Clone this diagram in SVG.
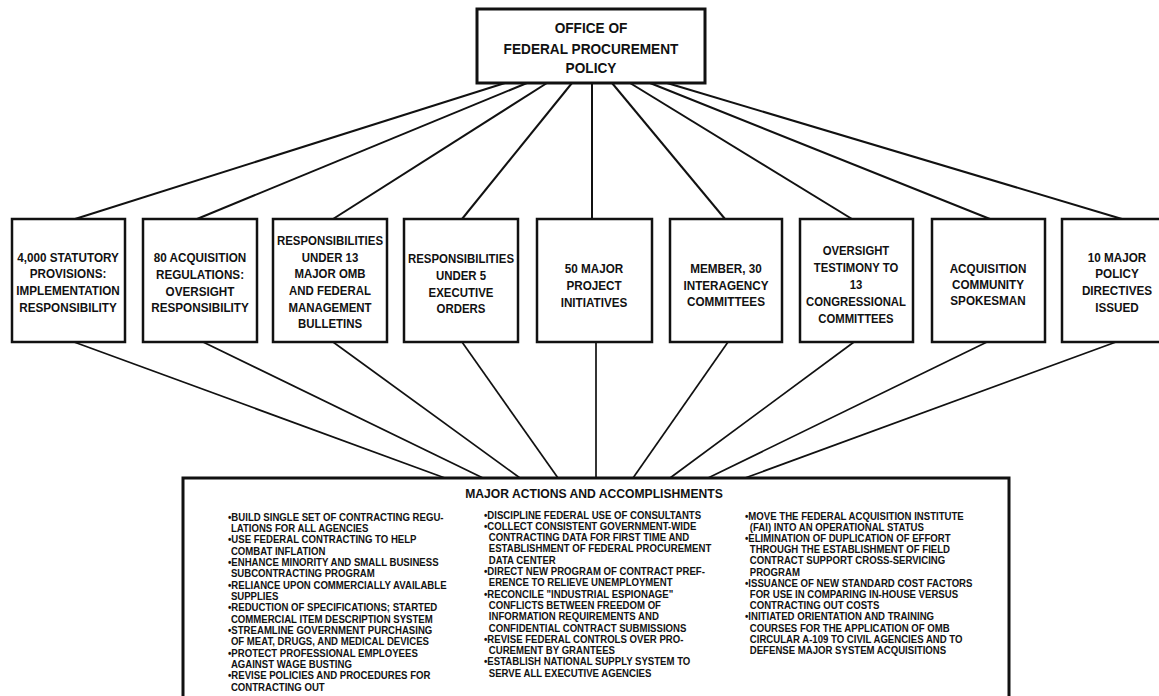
<svg xmlns="http://www.w3.org/2000/svg" width="1159" height="696" viewBox="0 0 1159 696">
<style>
.box{fill:#fff;stroke:#111;stroke-width:2.5}
.t{font-family:"Liberation Sans",Arial,sans-serif;font-weight:bold;fill:#111}
.hd{font-size:15px;text-anchor:middle}
.bx{font-size:13px;text-anchor:middle}
.ti{font-size:13.5px;text-anchor:middle}
.bd{font-size:10px}
.ln{stroke:#111;stroke-width:2;fill:none}
.lb{stroke:#111;stroke-width:1.7;fill:none}
</style>
<rect width="1159" height="696" fill="#fff"/>
<g id="connectors">
<line class="ln" x1="505" y1="83" x2="75" y2="219"/>
<line class="ln" x1="527" y1="83" x2="197" y2="219"/>
<line class="ln" x1="547" y1="83" x2="333" y2="219"/>
<line class="ln" x1="572" y1="83" x2="462" y2="219"/>
<line class="ln" x1="592" y1="83" x2="592" y2="219"/>
<line class="ln" x1="612" y1="83" x2="725" y2="219"/>
<line class="ln" x1="630" y1="83" x2="852" y2="219"/>
<line class="ln" x1="650" y1="83" x2="990" y2="219"/>
<line class="ln" x1="667" y1="83" x2="1122" y2="219"/>
<line class="lb" x1="74" y1="342" x2="445" y2="478"/>
<line class="lb" x1="203" y1="342" x2="483" y2="478"/>
<line class="lb" x1="333" y1="342" x2="520" y2="478"/>
<line class="lb" x1="462" y1="342" x2="558" y2="478"/>
<line class="lb" x1="596" y1="342" x2="596" y2="478"/>
<line class="lb" x1="728" y1="342" x2="633" y2="478"/>
<line class="lb" x1="854" y1="342" x2="670" y2="478"/>
<line class="lb" x1="987" y1="342" x2="708" y2="478"/>
<line class="lb" x1="1116" y1="342" x2="745" y2="478"/>
</g>
<g id="ofpp">
<rect class="box" x="477" y="9" width="228" height="74" style="stroke-width:3"/>
<text class="t hd" transform="translate(591,0) scale(0.91,1)"><tspan x="0" y="33">OFFICE OF</tspan><tspan x="0" y="54">FEDERAL PROCUREMENT</tspan><tspan x="0" y="73">POLICY</tspan></text>
</g>
<g id="box1">
<rect class="box" x="12" y="219" width="113" height="123"/>
<text class="t bx" transform="translate(68,0) scale(0.9,1)"><tspan x="0" y="262">4,000 STATUTORY</tspan><tspan x="0" y="278">PROVISIONS:</tspan><tspan x="0" y="295">IMPLEMENTATION</tspan><tspan x="0" y="312">RESPONSIBILITY</tspan></text>
</g>
<g id="box2">
<rect class="box" x="143" y="219" width="114" height="123"/>
<text class="t bx" transform="translate(200,0) scale(0.9,1)"><tspan x="0" y="262">80 ACQUISITION</tspan><tspan x="0" y="279">REGULATIONS:</tspan><tspan x="0" y="296">OVERSIGHT</tspan><tspan x="0" y="312">RESPONSIBILITY</tspan></text>
</g>
<g id="box3">
<rect class="box" x="273" y="219" width="114" height="123"/>
<text class="t bx" transform="translate(330,0) scale(0.88,1)"><tspan x="0" y="245">RESPONSIBILITIES</tspan><tspan x="0" y="262">UNDER 13</tspan><tspan x="0" y="278">MAJOR OMB</tspan><tspan x="0" y="295">AND FEDERAL</tspan><tspan x="0" y="312">MANAGEMENT</tspan><tspan x="0" y="328">BULLETINS</tspan></text>
</g>
<g id="box4">
<rect class="box" x="404" y="219" width="114" height="123"/>
<text class="t bx" transform="translate(461,0) scale(0.88,1)"><tspan x="0" y="263">RESPONSIBILITIES</tspan><tspan x="0" y="280">UNDER 5</tspan><tspan x="0" y="297">EXECUTIVE</tspan><tspan x="0" y="313">ORDERS</tspan></text>
</g>
<g id="box5">
<rect class="box" x="537" y="219" width="115" height="123"/>
<text class="t bx" transform="translate(594,0) scale(0.9,1)"><tspan x="0" y="273">50 MAJOR</tspan><tspan x="0" y="290">PROJECT</tspan><tspan x="0" y="307">INITIATIVES</tspan></text>
</g>
<g id="box6">
<rect class="box" x="670" y="219" width="112" height="123"/>
<text class="t bx" transform="translate(726,0) scale(0.9,1)"><tspan x="0" y="273">MEMBER, 30</tspan><tspan x="0" y="290">INTERAGENCY</tspan><tspan x="0" y="306">COMMITTEES</tspan></text>
</g>
<g id="box7">
<rect class="box" x="800" y="219" width="113" height="123"/>
<text class="t bx" transform="translate(856,0) scale(0.87,1)"><tspan x="0" y="255">OVERSIGHT</tspan><tspan x="0" y="272">TESTIMONY TO</tspan><tspan x="0" y="289">13</tspan><tspan x="0" y="306">CONGRESSIONAL</tspan><tspan x="0" y="323">COMMITTEES</tspan></text>
</g>
<g id="box8">
<rect class="box" x="932" y="219" width="113" height="123"/>
<text class="t bx" transform="translate(988,0) scale(0.9,1)"><tspan x="0" y="273">ACQUISITION</tspan><tspan x="0" y="289">COMMUNITY</tspan><tspan x="0" y="305">SPOKESMAN</tspan></text>
</g>
<g id="box9">
<rect class="box" x="1062" y="219" width="114" height="123"/>
<text class="t bx" transform="translate(1117,0) scale(0.9,1)"><tspan x="0" y="262">10 MAJOR</tspan><tspan x="0" y="278">POLICY</tspan><tspan x="0" y="295">DIRECTIVES</tspan><tspan x="0" y="312">ISSUED</tspan></text>
</g>
<g id="actions">
<rect class="box" x="183" y="478" width="826" height="230" style="stroke-width:3"/>
<text class="t ti" transform="translate(594,0) scale(0.9,1)" x="0" y="498">MAJOR ACTIONS AND ACCOMPLISHMENTS</text>
<text class="t bd" transform="translate(228,0) scale(0.96,1)">
<tspan x="0" y="520.6">•BUILD SINGLE SET OF CONTRACTING REGU-</tspan>
<tspan x="3" y="531.9">LATIONS FOR ALL AGENCIES</tspan>
<tspan x="0" y="543.3">•USE FEDERAL CONTRACTING TO HELP</tspan>
<tspan x="3" y="554.6">COMBAT INFLATION</tspan>
<tspan x="0" y="565.9">•ENHANCE MINORITY AND SMALL BUSINESS</tspan>
<tspan x="3" y="577.3">SUBCONTRACTING PROGRAM</tspan>
<tspan x="0" y="588.6">•RELIANCE UPON COMMERCIALLY AVAILABLE</tspan>
<tspan x="3" y="599.9">SUPPLIES</tspan>
<tspan x="0" y="611.2">•REDUCTION OF SPECIFICATIONS; STARTED</tspan>
<tspan x="3" y="622.6">COMMERCIAL ITEM DESCRIPTION SYSTEM</tspan>
<tspan x="0" y="633.9">•STREAMLINE GOVERNMENT PURCHASING</tspan>
<tspan x="3" y="645.2">OF MEAT, DRUGS, AND MEDICAL DEVICES</tspan>
<tspan x="0" y="656.6">•PROTECT PROFESSIONAL EMPLOYEES</tspan>
<tspan x="3" y="667.9">AGAINST WAGE BUSTING</tspan>
<tspan x="0" y="679.2">•REVISE POLICIES AND PROCEDURES FOR</tspan>
<tspan x="3" y="690.6">CONTRACTING OUT</tspan>
</text>
<text class="t bd" transform="translate(484,0) scale(0.96,1)">
<tspan x="0" y="518.6">•DISCIPLINE FEDERAL USE OF CONSULTANTS</tspan>
<tspan x="0" y="529.9">•COLLECT CONSISTENT GOVERNMENT-WIDE</tspan>
<tspan x="5" y="541.2">CONTRACTING DATA FOR FIRST TIME AND</tspan>
<tspan x="5" y="552.5">ESTABLISHMENT OF FEDERAL PROCUREMENT</tspan>
<tspan x="5" y="563.8">DATA CENTER</tspan>
<tspan x="0" y="575.1">•DIRECT NEW PROGRAM OF CONTRACT PREF-</tspan>
<tspan x="5" y="586.4">ERENCE TO RELIEVE UNEMPLOYMENT</tspan>
<tspan x="0" y="597.7">•RECONCILE "INDUSTRIAL ESPIONAGE"</tspan>
<tspan x="5" y="609.0">CONFLICTS BETWEEN FREEDOM OF</tspan>
<tspan x="5" y="620.3">INFORMATION REQUIREMENTS AND</tspan>
<tspan x="5" y="631.6">CONFIDENTIAL CONTRACT SUBMISSIONS</tspan>
<tspan x="0" y="642.9">•REVISE FEDERAL CONTROLS OVER PRO-</tspan>
<tspan x="5" y="654.2">CUREMENT BY GRANTEES</tspan>
<tspan x="0" y="665.5">•ESTABLISH NATIONAL SUPPLY SYSTEM TO</tspan>
<tspan x="5" y="676.8">SERVE ALL EXECUTIVE AGENCIES</tspan>
</text>
<text class="t bd" transform="translate(745,0) scale(0.96,1)">
<tspan x="0" y="519.6">•MOVE THE FEDERAL ACQUISITION INSTITUTE</tspan>
<tspan x="5" y="530.8">(FAI) INTO AN OPERATIONAL STATUS</tspan>
<tspan x="0" y="542.0">•ELIMINATION OF DUPLICATION OF EFFORT</tspan>
<tspan x="5" y="553.2">THROUGH THE ESTABLISHMENT OF FIELD</tspan>
<tspan x="5" y="564.4">CONTRACT SUPPORT CROSS-SERVICING</tspan>
<tspan x="5" y="575.6">PROGRAM</tspan>
<tspan x="0" y="586.8">•ISSUANCE OF NEW STANDARD COST FACTORS</tspan>
<tspan x="5" y="598.0">FOR USE IN COMPARING IN-HOUSE VERSUS</tspan>
<tspan x="5" y="609.2">CONTRACTING OUT COSTS</tspan>
<tspan x="0" y="620.4">•INITIATED ORIENTATION AND TRAINING</tspan>
<tspan x="5" y="631.6">COURSES FOR THE APPLICATION OF OMB</tspan>
<tspan x="5" y="642.8">CIRCULAR A-109 TO CIVIL AGENCIES AND TO</tspan>
<tspan x="5" y="654.0">DEFENSE MAJOR SYSTEM ACQUISITIONS</tspan>
</text>
</g>
</svg>
